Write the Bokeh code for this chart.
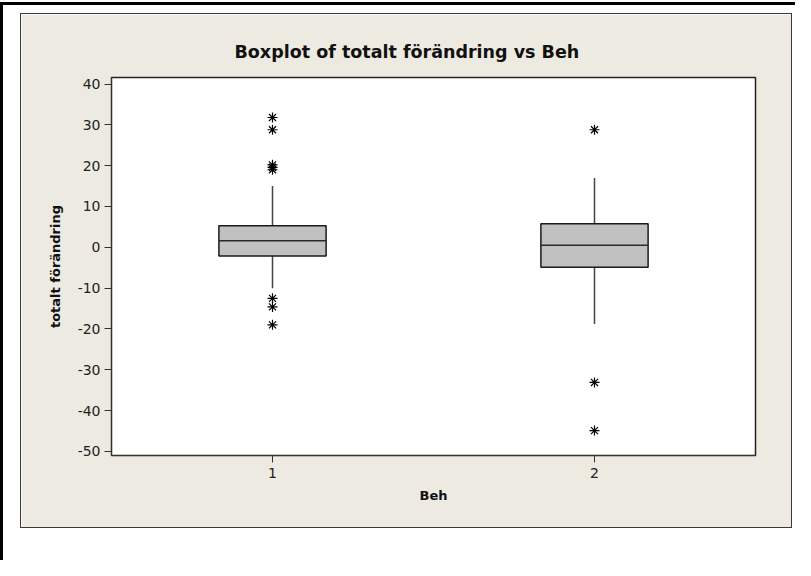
from bokeh.plotting import figure
from bokeh.models import (ColumnDataSource, FixedTicker, Range1d, FactorRange,
                          Div, Spacer, PrintfTickFormatter)
from bokeh.layouts import column, row
from bokeh.transform import dodge
from bokeh.embed import file_html
from bokeh.resources import INLINE

# ---- data ----
groups = ["1", "2"]
q1 = [-2.1, -4.9]
median = [1.6, 0.5]
q3 = [5.3, 5.8]
whisker_low = [-10.0, -18.8]
whisker_high = [15.0, 17.0]

outlier_groups = ["1", "1", "1", "1", "1", "1", "1", "1", "2", "2", "2"]
outlier_values = [31.8, 28.8, 20.2, 19.6, 19.0, -12.5, -14.6, -19.0, 28.8, -33.1, -44.9]

y_ticks = [-50, -40, -30, -20, -10, 0, 10, 20, 30, 40]

title_text = "Boxplot of totalt förändring vs Beh"
x_label = "Beh"
y_label = "totalt förändring"

# ---- styling ----
PW, PH = 770, 513          # beige panel (the figure itself)
BEIGE = "#EDEAE1"
FONT = "DejaVu Sans"

box_src = ColumnDataSource(dict(group=groups, q1=q1, median=median, q3=q3,
                                lo=whisker_low, hi=whisker_high))
out_src = ColumnDataSource(dict(group=outlier_groups, value=outlier_values))

p = figure(width=PW, height=PH, output_backend="svg", toolbar_location=None,
           x_range=FactorRange(factors=groups), y_range=Range1d(-51, 41.6),
           min_border_left=90, min_border_right=36, min_border_top=63,
           min_border_bottom=72, border_fill_color=BEIGE,
           background_fill_color="white", outline_line_color="#222222",
           outline_line_width=1.5, margin=0,
           styles={"outline": "1.5px solid #3a3a3a"})

p.title.text = title_text
p.title.text_font = FONT
p.title.text_font_size = "17.5px"
p.title.text_font_style = "bold"
p.title.text_color = "#111111"
p.title.align = "left"
p.title.offset = 123
p.title.standoff = 32

p.xgrid.visible = False
p.ygrid.visible = False

# whiskers
p.segment(x0="group", y0="q3", x1="group", y1="hi", source=box_src,
          line_color="#444444", line_width=1.5)
p.segment(x0="group", y0="q1", x1="group", y1="lo", source=box_src,
          line_color="#444444", line_width=1.5)
# boxes
p.vbar(x="group", width=0.333, bottom="q1", top="q3", source=box_src,
       fill_color="#C0C0C0", line_color="#1a1a1a", line_width=1.5)
# medians
p.segment(x0=dodge("group", -0.1665, range=p.x_range), y0="median",
          x1=dodge("group", 0.1665, range=p.x_range), y1="median",
          source=box_src, line_color="#2a2a2a", line_width=1.5)
# outliers
p.scatter(x="group", y="value", source=out_src, marker="asterisk", size=10,
          line_color="black", line_width=1.2)

# axes
for ax in (p.xaxis[0], p.yaxis[0]):
    ax.axis_line_color = "#333333"
    ax.major_tick_line_color = "#333333"
    ax.major_tick_out = 7
    ax.major_tick_in = 0
    ax.minor_tick_line_color = None
    ax.major_label_text_font = FONT
    ax.major_label_text_font_size = "14px"
    ax.major_label_text_color = "#222222"
    ax.axis_label_text_font = FONT
    ax.axis_label_text_font_size = "13px"
    ax.axis_label_text_font_style = "bold"
    ax.axis_label_text_color = "#111111"

p.yaxis[0].ticker = FixedTicker(ticks=y_ticks)
p.yaxis[0].formatter = PrintfTickFormatter(format="%d")
p.yaxis[0].major_label_standoff = 4
p.yaxis[0].axis_label = y_label
p.yaxis[0].axis_label_standoff = 12
p.xaxis[0].major_label_standoff = 5
p.xaxis[0].axis_label = x_label
p.xaxis[0].axis_label_standoff = 7

# page frame: white surroundings with black top and left lines
W_ALL, H_ALL = 795, 560
top_gap = Spacer(width=W_ALL, height=2, margin=0)
top_line = Div(text="", width=W_ALL, height=3, margin=0,
               styles={"background-color": "black"})
left_line = Div(text="", width=3, height=H_ALL - 5, margin=0,
                styles={"background-color": "black"})
left_gap = Spacer(width=18, height=10, margin=0)
panel_col = column(Spacer(width=PW, height=9, margin=0), p, spacing=0, margin=0)
body = row(left_line, left_gap, panel_col, spacing=0, margin=0)
layout = column(top_gap, top_line, body, spacing=0, margin=0,
                styles={"background-color": "white"})

open("out.html", "w").write(file_html(layout, INLINE))
